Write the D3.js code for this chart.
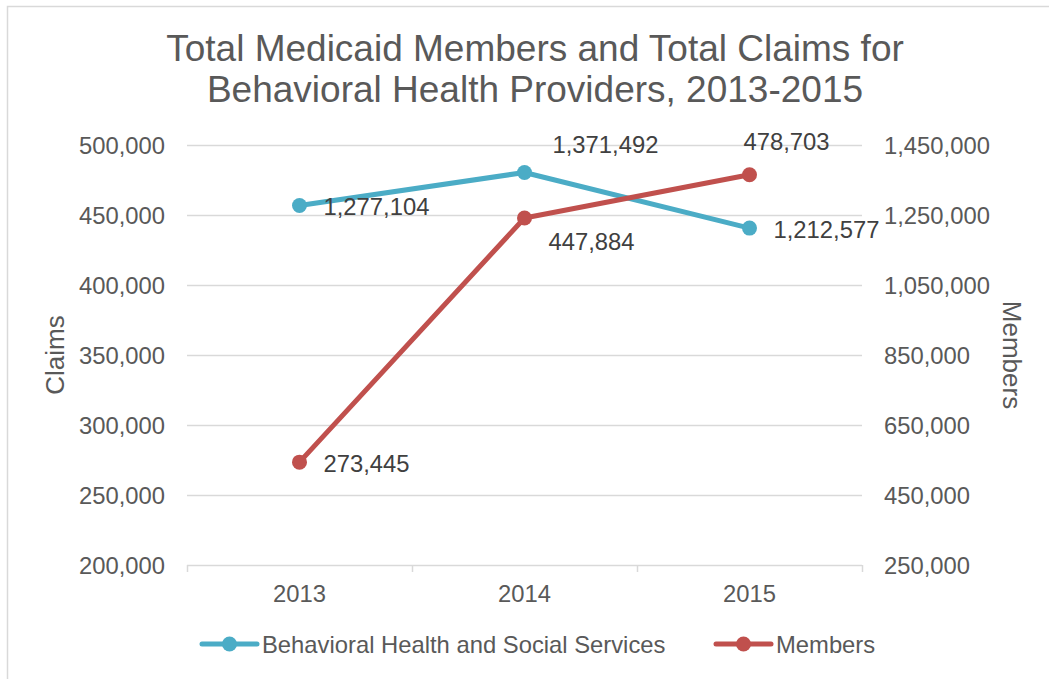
<!DOCTYPE html>
<html>
<head>
<meta charset="utf-8">
<script src="https://cdn.jsdelivr.net/npm/d3@7"></script>
<style>
  html, body { margin: 0; padding: 0; background: #fff; }
  svg { display: block; font-family: "Liberation Sans", Arial, sans-serif; }
</style>
</head>
<body>
<svg id="chart" width="1049" height="679"></svg>
<script>
const years = ['2013', '2014', '2015'];
const behavioralHealth = [1277104, 1371492, 1212577]; // plotted on the right axis
const members = [273445, 447884, 478703];             // plotted on the left axis
const leftTicks = [200000, 250000, 300000, 350000, 400000, 450000, 500000];
const rightTicks = [250000, 450000, 650000, 850000, 1050000, 1250000, 1450000];

// label placement offsets (start x, centre y) relative to each point
const blueLabelOffsets = [[24, 1], [28, -28], [24, 1]];
const redLabelOffsets = [[24, 1], [24, 23], [-6, -33]];

const BLUE = '#4BACC6';
const RED = '#C0504D';
const fmt = d3.format(',');
const FS = 23.8;

const svg = d3.select('#chart');
const margin = { top: 145, right: 187, bottom: 114, left: 187 };
const plotW = 862 - margin.left;
const plotH = 565 - margin.top;

// outer chart border (only left and top visible in the picture)
svg.append('rect')
  .attr('x', 7.5).attr('y', 6.5)
  .attr('width', 1100).attr('height', 700)
  .attr('fill', 'none').attr('stroke', '#d9d9d9').attr('stroke-width', 1.5);

svg.append('text')
  .attr('x', 535).attr('y', 61)
  .attr('text-anchor', 'middle')
  .attr('font-size', 37).attr('fill', '#595959')
  .selectAll('tspan')
  .data(['Total Medicaid Members and Total Claims for', 'Behavioral Health Providers, 2013-2015'])
  .join('tspan')
  .attr('x', 535)
  .attr('dy', (d, i) => i ? 41 : 0)
  .text(d => d);

const g = svg.append('g').attr('transform', `translate(${margin.left},${margin.top})`);

const x = d3.scaleBand().domain(years).range([0, plotW]);
const yLeft = d3.scaleLinear().domain([200000, 500000]).range([plotH, 0]);
const yRight = d3.scaleLinear().domain([250000, 1450000]).range([plotH, 0]);
const cx = d => x(d) + x.bandwidth() / 2;

// gridlines
g.append('g')
  .selectAll('line')
  .data(leftTicks.slice(1))
  .join('line')
  .attr('x1', 0).attr('x2', plotW)
  .attr('y1', d => Math.round(yLeft(d)) + 0.5).attr('y2', d => Math.round(yLeft(d)) + 0.5)
  .attr('stroke', '#d9d9d9').attr('stroke-width', 1.5);

// x axis
const xAxis = g.append('g').attr('transform', `translate(0,${plotH})`)
  .call(d3.axisBottom(x).tickSize(0).tickPadding(0));
xAxis.select('.domain').remove();
xAxis.append('line')
  .attr('x1', 0).attr('x2', plotW).attr('y1', 0.5).attr('y2', 0.5)
  .attr('stroke', '#d9d9d9').attr('stroke-width', 1.5);
xAxis.selectAll('.sep')
  .data(d3.range(years.length + 1))
  .join('line')
  .attr('class', 'sep')
  .attr('x1', i => i * x.bandwidth() + 0.5).attr('x2', i => i * x.bandwidth() + 0.5)
  .attr('y1', 0).attr('y2', 7)
  .attr('stroke', '#d9d9d9').attr('stroke-width', 1.5);
xAxis.selectAll('.tick text')
  .attr('y', 37).attr('dy', 0)
  .attr('font-size', FS).attr('fill', '#595959')
  .attr('font-family', '"Liberation Sans", Arial, sans-serif');

// left axis
const leftAxis = g.append('g')
  .call(d3.axisLeft(yLeft).tickValues(leftTicks).tickFormat(fmt).tickSize(0).tickPadding(22));
leftAxis.select('.domain').remove();
leftAxis.selectAll('.tick text')
  .attr('dy', '0.36em')
  .attr('font-size', FS).attr('fill', '#595959')
  .attr('font-family', '"Liberation Sans", Arial, sans-serif');

// right axis
const rightAxis = g.append('g').attr('transform', `translate(${plotW},0)`)
  .call(d3.axisRight(yRight).tickValues(rightTicks).tickFormat(fmt).tickSize(0).tickPadding(22));
rightAxis.select('.domain').remove();
rightAxis.selectAll('.tick text')
  .attr('dy', '0.36em')
  .attr('font-size', FS).attr('fill', '#595959')
  .attr('font-family', '"Liberation Sans", Arial, sans-serif');

// axis titles
svg.append('text')
  .attr('transform', `translate(64,${margin.top + plotH / 2}) rotate(-90)`)
  .attr('text-anchor', 'middle')
  .attr('font-size', 26).attr('fill', '#595959')
  .text('Claims');
svg.append('text')
  .attr('transform', `translate(1003,${margin.top + plotH / 2}) rotate(90)`)
  .attr('text-anchor', 'middle')
  .attr('font-size', 26).attr('fill', '#595959')
  .text('Members');

function drawSeries(values, yScale, color, offsets) {
  const pts = values.map((v, i) => ({ year: years[i], value: v, off: offsets[i] }));
  const line = d3.line().x(d => cx(d.year)).y(d => yScale(d.value));
  g.append('path')
    .datum(pts)
    .attr('d', line)
    .attr('fill', 'none').attr('stroke', color)
    .attr('stroke-width', 5).attr('stroke-linejoin', 'round').attr('stroke-linecap', 'round');
  g.append('g').selectAll('circle')
    .data(pts)
    .join('circle')
    .attr('cx', d => cx(d.year)).attr('cy', d => yScale(d.value))
    .attr('r', 7.5).attr('fill', color);
  g.append('g').selectAll('text')
    .data(pts)
    .join('text')
    .attr('x', d => cx(d.year) + d.off[0])
    .attr('y', d => yScale(d.value) + d.off[1])
    .attr('dy', '0.36em')
    .attr('font-size', FS).attr('fill', '#404040')
    .text(d => fmt(d.value));
}

drawSeries(behavioralHealth, yRight, BLUE, blueLabelOffsets);
drawSeries(members, yLeft, RED, redLabelOffsets);

// legend
const legendItems = [
  { name: 'Behavioral Health and Social Services', color: BLUE, x: 202 },
  { name: 'Members', color: RED, x: 716 }
];
const legend = svg.append('g').attr('transform', 'translate(0,644)');
const item = legend.selectAll('g').data(legendItems).join('g')
  .attr('transform', d => `translate(${d.x},0)`);
item.append('line')
  .attr('x1', 0).attr('x2', 55).attr('y1', 0).attr('y2', 0)
  .attr('stroke', d => d.color).attr('stroke-width', 5).attr('stroke-linecap', 'round');
item.append('circle')
  .attr('cx', 27.5).attr('cy', 0).attr('r', 7.5)
  .attr('fill', d => d.color);
item.append('text')
  .attr('x', 60).attr('y', 0).attr('dy', '0.36em')
  .attr('font-size', FS).attr('fill', '#595959')
  .text(d => d.name);
</script>
</body>
</html>
